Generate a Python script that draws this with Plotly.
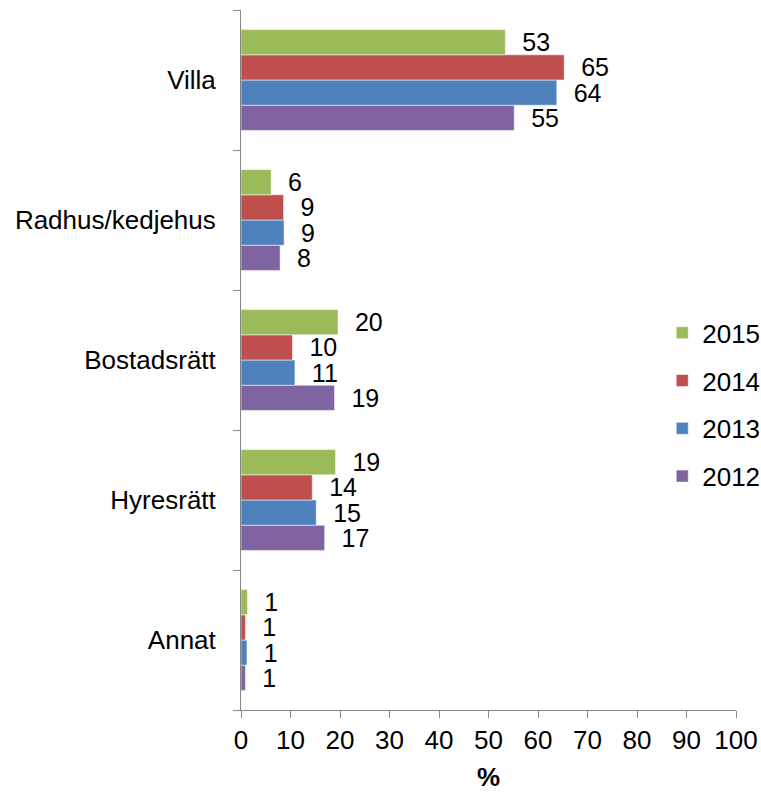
import plotly.graph_objects as go

# -- Categories (top to bottom) and series
categories = ["Villa", "Radhus/kedjehus", "Bostadsrätt", "Hyresrätt", "Annat"]
years = ["2012", "2013", "2014", "2015"]

values_2015 = [53.4, 6.1, 19.6, 19.1, 1.3]
values_2014 = [65.3, 8.6, 10.4, 14.4, 0.9]
values_2013 = [63.8, 8.7, 10.9, 15.2, 1.2]
values_2012 = [55.2, 7.9, 18.9, 16.9, 0.9]

x_ticks = list(range(0, 101, 10))

series = {
    "2012": (values_2012, "#8064A2"),
    "2013": (values_2013, "#4F81BD"),
    "2014": (values_2014, "#C0504D"),
    "2015": (values_2015, "#9BBB59"),
}

FONT = "Liberation Sans, Arial, sans-serif"
FS = 26

fig = go.Figure()
for i, year in enumerate(years):
    vals, color = series[year]
    fig.add_trace(
        go.Bar(
            y=categories,
            x=vals,
            name=year,
            orientation="h",
            legendgroup=year,
            legendrank=len(years) - i,
            marker=dict(color=color, line=dict(color="rgba(255,255,255,0.5)", width=1)),
            texttemplate="\u00a0\u00a0%{x:.0f}",
            textposition="outside",
            textfont=dict(size=25, color="black", family=FONT),
            cliponaxis=False,
            constraintext="none",
        )
    )

fig.update_layout(
    barmode="group",
    bargap=0.28,
    bargroupgap=0,
    width=761,
    height=792,
    margin=dict(l=241, r=25, t=10, b=82, autoexpand=False),
    plot_bgcolor="white",
    paper_bgcolor="white",
    font=dict(family=FONT, size=FS, color="black"),
    legend=dict(
        traceorder="grouped",
        tracegroupgap=11,
        x=0.851,
        xanchor="left",
        y=0.436,
        yanchor="middle",
        font=dict(size=FS),
        bgcolor="rgba(0,0,0,0)",
    ),
    showlegend=True,
)

fig.update_xaxes(
    range=[0, 100],
    tickvals=x_ticks,
    showgrid=False,
    zeroline=False,
    showline=True,
    linecolor="#868686",
    linewidth=1,
    ticks="outside",
    ticklen=7,
    tickcolor="#868686",
    tickfont=dict(size=FS),
    title=dict(text="<b>%</b>", font=dict(size=FS), standoff=18),
)

fig.update_yaxes(
    categoryorder="array",
    categoryarray=categories[::-1],
    showgrid=False,
    zeroline=False,
    showline=True,
    linecolor="#868686",
    linewidth=1,
    ticks="outside",
    ticklen=7,
    tickcolor="#868686",
    tickson="boundaries",
    tickfont=dict(size=FS),
    ticklabelstandoff=19,
)

# -- drop the default page margin so the figure sits at the window's corner
fig.write_html(
    "out.html",
    config={"displayModeBar": False},
    post_script="document.body.style.margin = '0';",
)
